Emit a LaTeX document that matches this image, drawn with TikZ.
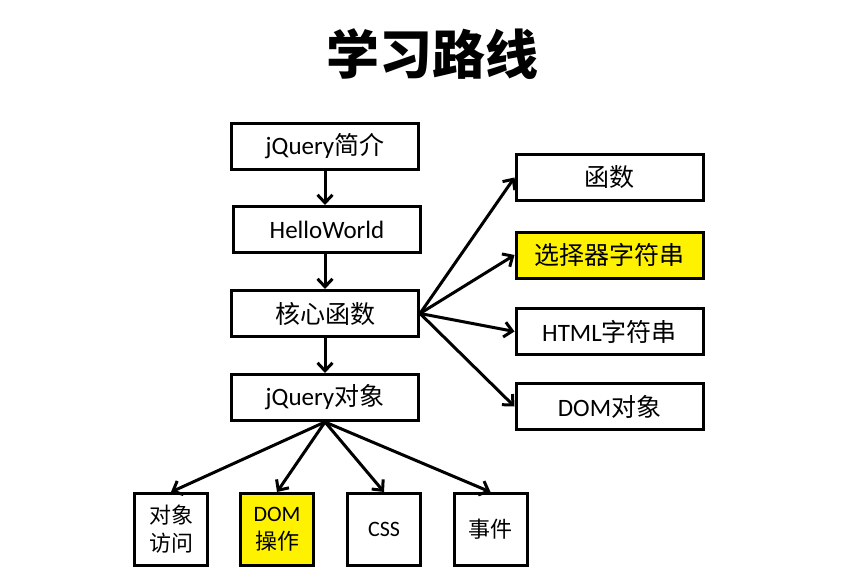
\documentclass[tikz,border=0pt]{standalone}
\usepackage{fontspec}
\setmainfont{Carlito}
\newfontfamily\cjk{Noto Sans CJK SC}
\usetikzlibrary{arrows.meta}
\tikzset{
  box/.style={draw=black, line width=3pt, fill=white, rectangle, inner sep=0pt,
    minimum width=187pt, minimum height=46pt, font=\fontsize{25}{30}\selectfont},
  smallbox/.style={box, minimum width=73pt, minimum height=72pt,
    align=center, font=\fontsize{22}{28}\selectfont},
  hl/.style={fill=yellow},
  arr/.style={line width=3pt, -{Straight Barb[length=8pt,width=15pt,line width=3pt]}}
}
\begin{document}
\begin{tikzpicture}[x=1pt,y=-1pt]
\useasboundingbox (0,0) rectangle (864,572);
\node[font=\cjk\bfseries\fontsize{53}{58}\selectfont] (title) at (432,54) {学习路线};
% left column
\node[box] (jq) at (325,146.5) {jQuery{\cjk 简介}};
\node[box] (hw) at (327,229.5) {HelloWorld};
\node[box] (core) at (325,313.5) {\cjk 核心函数};
\node[box] (obj) at (325,397.5) {jQuery{\cjk 对象}};
% right column
\node[box] (fn) at (609.5,177.5) {\cjk 函数};
\node[box,hl] (sel) at (609.5,255) {\cjk 选择器字符串};
\node[box] (html) at (609.5,331.5) {HTML{\cjk 字符串}};
\node[box] (dom) at (609.5,406.5) {DOM{\cjk 对象}};
% bottom row
\node[smallbox] (acc) at (171,529.5) {\cjk 对象\\\cjk 访问};
\node[smallbox,hl] (domop) at (277,529.5) {DOM\\\cjk 操作};
\node[smallbox] (css) at (384,529.5) {CSS};
\node[smallbox] (evt) at (490.5,529.5) {\cjk 事件};
% arrows
\draw[arr] (jq.south) -- (jq.south |- hw.north);
\draw[arr] (core.south |- hw.south) -- (core.north);
\draw[arr] (core.south) -- (obj.north);
\draw[arr] (core.east) -- (fn.west);
\draw[arr] (core.east) -- (sel.west);
\draw[arr] (core.east) -- (html.west);
\draw[arr] (core.east) -- (dom.west);
\draw[arr] (obj.south) -- (acc.north);
\draw[arr] (obj.south) -- (domop.north);
\draw[arr] (obj.south) -- (css.north);
\draw[arr] (obj.south) -- (evt.north);
\end{tikzpicture}
\end{document}
